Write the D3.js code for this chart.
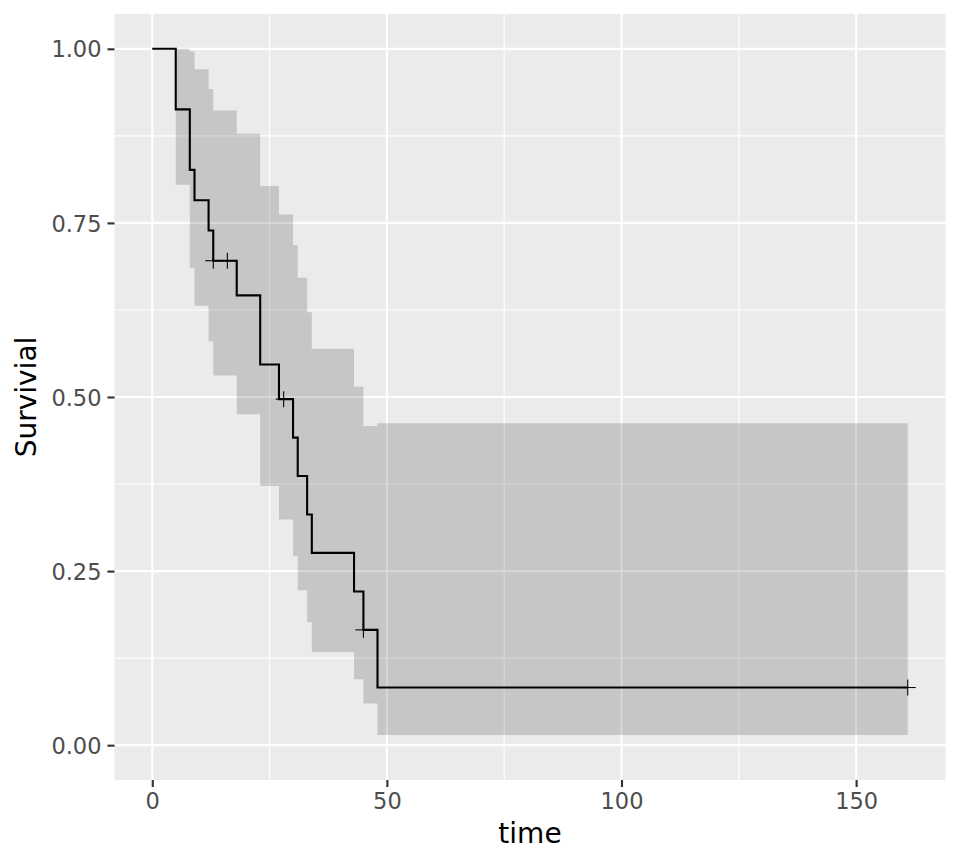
<!DOCTYPE html>
<html>
<head>
<meta charset="utf-8">
<script src="https://cdn.jsdelivr.net/npm/d3@7"></script>
<style>
  body { margin: 0; background: #fff; }
  text { font-family: "DejaVu Sans", sans-serif; }
</style>
</head>
<body>
<svg id="chart" width="960" height="865"></svg>
<script>
// Kaplan-Meier step data (times, survival, CI)
const times = [0, 5, 8, 9, 12, 13, 16, 18, 23, 27, 28, 30, 31, 33, 34, 43, 45, 48, 161];
const surv  = [1, 0.9130, 0.8261, 0.7826, 0.7391, 0.6957, 0.6957, 0.6460, 0.5466, 0.4969, 0.4969, 0.4417, 0.3865, 0.3313, 0.2761, 0.2208, 0.1656, 0.0828, 0.0828];
const upper = [1, 1.0000, 0.9965, 0.9707, 0.9423, 0.9116, 0.9116, 0.8780, 0.8029, 0.7620, 0.7620, 0.7181, 0.6712, 0.6216, 0.5694, 0.5148, 0.4585, 0.4623, 0.4623];
const lower = [1, 0.8049, 0.6848, 0.6310, 0.5798, 0.5309, 0.5309, 0.4753, 0.3721, 0.3240, 0.3240, 0.2717, 0.2225, 0.1765, 0.1338, 0.0947, 0.0598, 0.0148, 0.0148];
const censorTimes = [13, 16, 28, 45, 161];
const censorSurv  = [0.6957, 0.6957, 0.4969, 0.1656, 0.0828];
const xTicks = [0, 50, 100, 150];
const xMinor = [25, 75, 125];
const yTicks = [0, 0.25, 0.5, 0.75, 1.0];
const yMinor = [0.125, 0.375, 0.625, 0.875];
const yTickLabels = ["0.00", "0.25", "0.50", "0.75", "1.00"];

const svg = d3.select("#chart");
const P = { left: 114.5, right: 945.5, top: 14, bottom: 780 };

const x = d3.scaleLinear().domain([-8.05, 169.05]).range([P.left, P.right]);
const y = d3.scaleLinear().domain([-0.05, 1.05]).range([P.bottom, P.top]);

// panel background
svg.append("rect").attr("x", P.left).attr("y", P.top)
  .attr("width", P.right - P.left).attr("height", P.bottom - P.top)
  .attr("fill", "#ebebeb");

const grid = svg.append("g");
xMinor.forEach(v => grid.append("line").attr("x1", x(v)).attr("x2", x(v))
  .attr("y1", P.top).attr("y2", P.bottom).attr("stroke", "#fff").attr("stroke-width", 1.07));
yMinor.forEach(v => grid.append("line").attr("y1", y(v)).attr("y2", y(v))
  .attr("x1", P.left).attr("x2", P.right).attr("stroke", "#fff").attr("stroke-width", 1.07));
xTicks.forEach(v => grid.append("line").attr("x1", x(v)).attr("x2", x(v))
  .attr("y1", P.top).attr("y2", P.bottom).attr("stroke", "#fff").attr("stroke-width", 2.13));
yTicks.forEach(v => grid.append("line").attr("y1", y(v)).attr("y2", y(v))
  .attr("x1", P.left).attr("x2", P.right).attr("stroke", "#fff").attr("stroke-width", 2.13));

// confidence ribbon
const data = times.map((t, i) => ({ t, s: surv[i], lo: lower[i], hi: upper[i] }));
const area = d3.area().curve(d3.curveStepAfter)
  .x(d => x(d.t)).y0(d => y(d.lo)).y1(d => y(d.hi));
svg.append("path").datum(data).attr("d", area)
  .attr("fill", "#000").attr("fill-opacity", 0.155);

// survival step line
const line = d3.line().curve(d3.curveStepAfter).x(d => x(d.t)).y(d => y(d.s));
svg.append("path").datum(data).attr("d", line)
  .attr("fill", "none").attr("stroke", "#000").attr("stroke-width", 2.1);

// censor marks
const cg = svg.append("g");
censorTimes.forEach((t, i) => {
  const cx = x(t), cy = y(censorSurv[i]);
  cg.append("line").attr("x1", cx - 8).attr("x2", cx + 8).attr("y1", cy).attr("y2", cy)
    .attr("stroke", "#000").attr("stroke-width", 1.07);
  cg.append("line").attr("x1", cx).attr("x2", cx).attr("y1", cy - 8).attr("y2", cy + 8)
    .attr("stroke", "#000").attr("stroke-width", 1.07);
});

// axes
const xAxis = svg.append("g").attr("transform", `translate(0,${P.bottom})`)
  .call(d3.axisBottom(x).tickValues(xTicks).tickSize(7).tickPadding(5).tickFormat(d3.format("d")));
const yAxis = svg.append("g").attr("transform", `translate(${P.left},0)`)
  .call(d3.axisLeft(y).tickValues(yTicks).tickSize(7).tickPadding(6).tickFormat((d, i) => yTickLabels[i]));
[xAxis, yAxis].forEach(a => {
  a.select(".domain").remove();
  a.selectAll(".tick line").attr("stroke", "#333").attr("stroke-width", 2.13);
  a.selectAll(".tick text").attr("fill", "#4d4d4d").style("font-size", "22.5px");
});
xAxis.selectAll(".tick text").attr("dy", "0.76em");
yAxis.selectAll(".tick text").attr("dy", "0.36em");

// titles
svg.append("text").attr("x", (P.left + P.right) / 2).attr("y", 843)
  .attr("text-anchor", "middle").style("font-size", "28px").attr("fill", "#000").text("time");
svg.append("text").attr("transform", `translate(36,${(P.top + P.bottom) / 2}) rotate(-90)`)
  .attr("text-anchor", "middle").style("font-size", "28px").attr("fill", "#000").text("Survivial");
</script>
</body>
</html>
